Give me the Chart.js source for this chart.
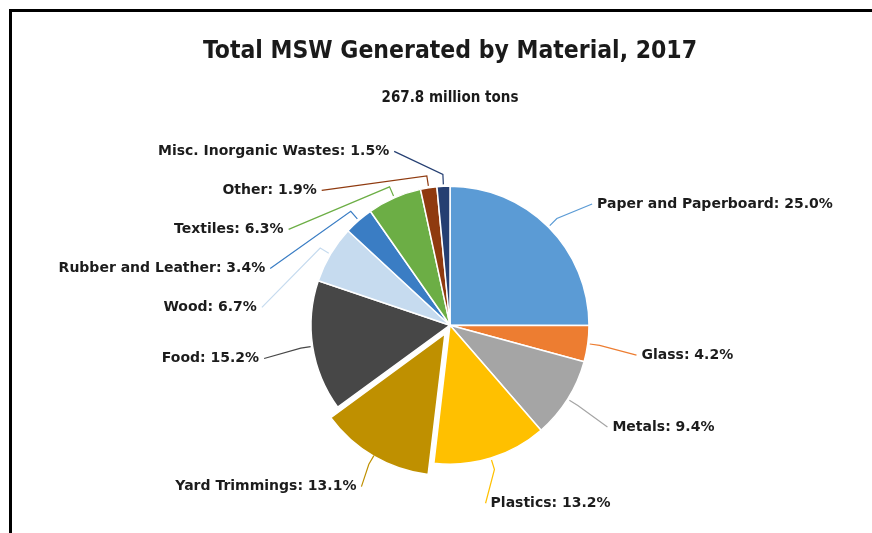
<!DOCTYPE html>
<html>
<head>
<meta charset="utf-8">
<title>Total MSW Generated by Material, 2017</title>
<script src="https://cdn.jsdelivr.net/npm/chart.js@4.4.0/dist/chart.umd.min.js"></script>
<style>
  html, body { margin: 0; padding: 0; background: #fff; }
  #wrap { position: relative; width: 872px; height: 533px; overflow: hidden; }
  #frame { position: absolute; left: 9px; top: 9px; width: 900px; height: 600px;
           border-left: 3px solid #000; border-top: 3px solid #000; }
  #msw { position: absolute; left: 0; top: 0; }
</style>
</head>
<body>
<div id="wrap">
  <div id="frame"></div>
  <canvas id="msw" width="872" height="533"></canvas>
</div>
<script>
// share of total MSW generated, percent (2017)
const categories = [
  "Paper and Paperboard", "Glass", "Metals", "Plastics", "Yard Trimmings",
  "Food", "Wood", "Rubber and Leather", "Textiles", "Other", "Misc. Inorganic Wastes"
];
const shares = [25.0, 4.2, 9.4, 13.2, 13.1, 15.2, 6.7, 3.4, 6.3, 1.9, 1.5];
const totalTons = "267.8 million tons";
const explodedCategory = "Yard Trimmings";

const sliceColors = [
  "#5b9bd5", "#ed7d31", "#a5a5a5", "#ffc000", "#bf9000",
  "#474747", "#c6dbef", "#3a7dc4", "#6cae45", "#8f3a0f", "#253f72"
];

const condensed = "'Liberation Sans Narrow', 'DejaVu Sans Condensed', sans-serif";

// draws "name: xx.x%" labels with connector lines, pushing crowded labels apart
const calloutLabels = {
  id: "calloutLabels",
  afterDatasetsDraw(chart, args, opts) {
    const ctx = chart.ctx;
    const meta = chart.getDatasetMeta(0);
    const ds = chart.data.datasets[0];
    const left = [], right = [];

    meta.data.forEach((arc, i) => {
      const p = arc.getProps(["x", "y", "startAngle", "endAngle", "outerRadius"], true);
      const mid = (p.startAngle + p.endAngle) / 2;
      const shift = (arc.options.offset || 0) / 4;
      const ox = p.x + Math.cos(mid) * shift;
      const oy = p.y + Math.sin(mid) * shift;
      const item = {
        cx: p.x, cy: p.y,
        edge: [ox + Math.cos(mid) * (p.outerRadius + 2), oy + Math.sin(mid) * (p.outerRadius + 2)],
        bend: [ox + Math.cos(mid) * (p.outerRadius + opts.bend), oy + Math.sin(mid) * (p.outerRadius + opts.bend)],
        y: p.y + Math.sin(mid) * opts.distance + opts.dy,
        text: chart.data.labels[i] + ": " + ds.data[i].toFixed(1) + "%",
        color: ds.backgroundColor[i]
      };
      (Math.cos(mid) < 0 ? left : right).push(item);
    });

    ctx.save();
    ctx.font = opts.font;
    ctx.textBaseline = "middle";

    [[left, -1], [right, 1]].forEach(([list, dir]) => {
      list.sort((a, b) => a.y - b.y);
      for (let k = 1; k < list.length; k++) {
        list[k].y = Math.max(list[k].y, list[k - 1].y + opts.gap);
      }
      list.forEach(it => {
        const dy = it.y - it.cy;
        const w = Math.sqrt(Math.max(opts.distance * opts.distance - dy * dy, 0));
        const tx = it.cx + dir * (w + opts.pad);
        const lx = it.cx + dir * (w + opts.pad - 5);

        ctx.beginPath();
        ctx.moveTo(lx, it.y);
        ctx.lineTo(it.bend[0], it.bend[1]);
        ctx.lineTo(it.edge[0], it.edge[1]);
        ctx.strokeStyle = it.color;
        ctx.lineWidth = 1.2;
        ctx.stroke();

        ctx.textAlign = dir < 0 ? "right" : "left";
        ctx.fillStyle = opts.color;
        ctx.fillText(it.text, tx, it.y);
      });
    });
    ctx.restore();
  }
};

new Chart(document.getElementById("msw"), {
  type: "pie",
  data: {
    labels: categories,
    datasets: [{
      data: shares,
      backgroundColor: sliceColors,
      borderColor: "#ffffff",
      borderWidth: 1.5,
      radius: 139,
      offset: ctx => categories[ctx.dataIndex] === explodedCategory ? 40 : 0
    }]
  },
  options: {
    responsive: false,
    animation: false,
    events: [],
    layout: { padding: { left: 128, right: 100, top: 0, bottom: 50 } },
    plugins: {
      legend: { display: false },
      tooltip: { enabled: false },
      title: {
        display: true,
        text: "Total MSW Generated by Material, 2017",
        color: "#1a1a1a",
        font: { family: condensed, size: 24.5, weight: "bold" },
        padding: { top: 37, bottom: 12 }
      },
      subtitle: {
        display: true,
        text: totalTons,
        color: "#1a1a1a",
        font: { family: condensed, size: 15, weight: "bold" },
        padding: { top: 11, bottom: 60 }
      },
      calloutLabels: {
        distance: 180,
        bend: 12,
        pad: 14,
        gap: 39,
        dy: 6,
        color: "#1c1c1c",
        font: "bold 14px 'DejaVu Sans', sans-serif"
      }
    }
  },
  plugins: [calloutLabels]
});
</script>
</body>
</html>
